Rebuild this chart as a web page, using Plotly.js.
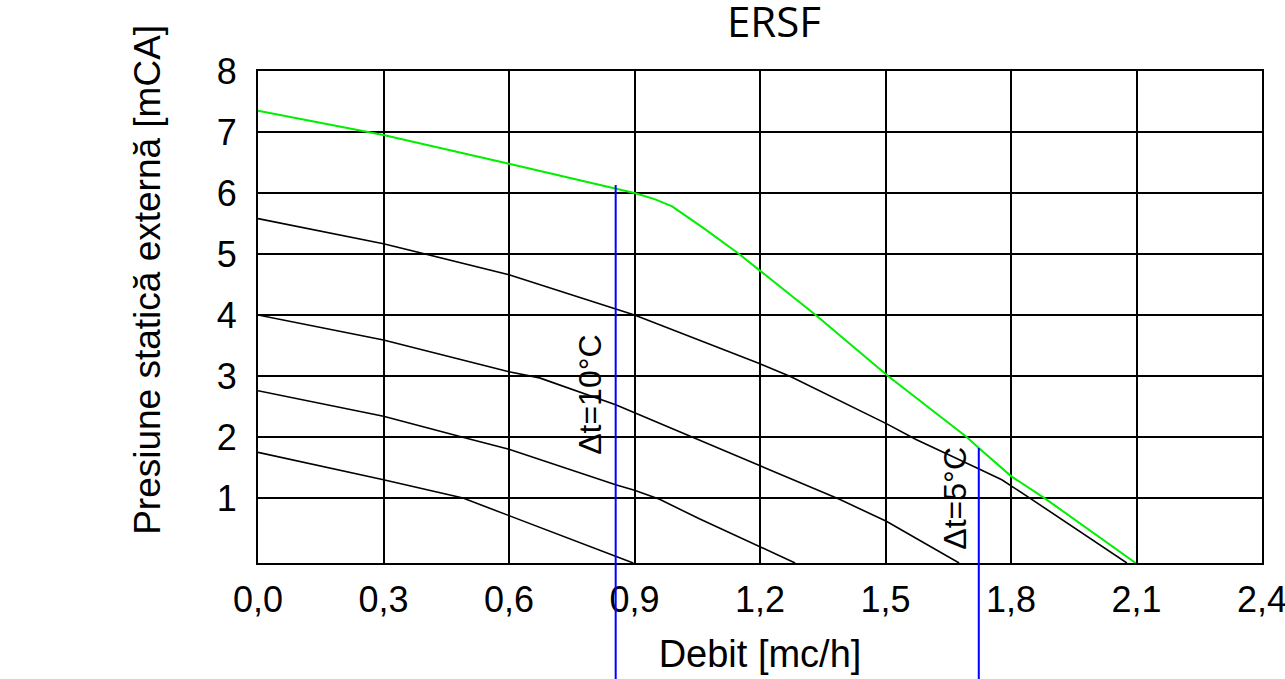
<!DOCTYPE html>
<html>
<head>
<meta charset="utf-8">
<script src="https://cdn.plot.ly/plotly-3.0.1.min.js"></script>
<style>html,body{margin:0;padding:0;background:#fff;}#chart{width:1285px;height:679px;}</style>
</head>
<body>
<div id="chart"></div>
<script>
// ---- data ----
const chartTitle = "ERSF";
const xTitle = "Debit [mc/h]";
const yTitle = "Presiune statică externă [mCA]";

const xTicks = [0, 0.3, 0.6, 0.9, 1.2, 1.5, 1.8, 2.1, 2.4];
const yTicks = [1, 2, 3, 4, 5, 6, 7, 8];
const xRange = [0, 2.4];
const yRange = [-0.064, 8];

// green (max) curve
const xGreen = [0, 0.3, 0.6, 0.855, 0.9, 0.948, 0.99, 1.066, 1.15, 1.333, 1.506, 1.694, 1.723, 1.8, 1.88, 2.098];
const yGreen = [7.35, 6.95, 6.48, 6.08, 6.0, 5.9, 5.78, 5.42, 5.0, 4.0, 3.0, 2.0, 1.82, 1.36, 1.0, -0.064];

// black speed curves
const xSpeed1 = [0, 0.3, 0.6, 0.855, 0.9, 1.2, 1.274, 1.502, 1.573, 1.72, 1.778, 1.845, 2.077];
const ySpeed1 = [5.58, 5.17, 4.66, 4.09, 4.0, 3.2, 2.99, 2.22, 1.96, 1.49, 1.30, 1.0, -0.064];

const xSpeed2 = [0, 0.3, 0.6, 0.673, 0.855, 0.9, 1.055, 1.2, 1.39, 1.502, 1.676];
const ySpeed2 = [4.0, 3.59, 3.07, 2.97, 2.53, 2.40, 1.94, 1.53, 0.98, 0.62, -0.064];

const xSpeed3 = [0, 0.3, 0.51, 0.6, 0.855, 0.9, 0.96, 1.055, 1.284];
const ySpeed3 = [2.76, 2.34, 1.96, 1.80, 1.22, 1.13, 0.98, 0.66, -0.064];

const xSpeed4 = [0, 0.3, 0.49, 0.6, 0.855, 0.897];
const ySpeed4 = [1.75, 1.30, 1.0, 0.71, 0.05, -0.064];

// Δt marker lines
const markerLabels = ["Δt=10°C", "Δt=5°C"];
const markerX = [0.855, 1.723];
const markerTop = [6.13, 1.82];
const labelX = [0.795, 1.666];
const labelY = [2.685, 1.006];

// ---- build ----
const blackLine = {color: "#000000", width: 1.6};
const traces = [
  {x: xSpeed1, y: ySpeed1, mode: "lines", line: blackLine, name: "1"},
  {x: xSpeed2, y: ySpeed2, mode: "lines", line: blackLine, name: "2"},
  {x: xSpeed3, y: ySpeed3, mode: "lines", line: blackLine, name: "3"},
  {x: xSpeed4, y: ySpeed4, mode: "lines", line: blackLine, name: "4"},
  {x: xGreen, y: yGreen, mode: "lines", line: {color: "#00ee00", width: 2}, name: "max"}
];

const toPaperY = v => (v - yRange[0]) / (yRange[1] - yRange[0]);

const shapes = markerX.map((mx, i) => ({
  type: "line", xref: "x", yref: "paper",
  x0: mx, x1: mx, y0: -0.4, y1: toPaperY(markerTop[i]),
  line: {color: "#0000ff", width: 2}, layer: "above"
}));

const annotations = markerLabels.map((t, i) => ({
  text: t, x: labelX[i], y: labelY[i], xref: "x", yref: "y",
  showarrow: false, textangle: -90, xanchor: "center", yanchor: "middle",
  font: {family: "Liberation Sans, Arial, sans-serif", size: 32, color: "#000"}
}));

annotations.push({
  text: yTitle, xref: "paper", yref: "paper",
  x: (148 - 258) / 1004, y: (563.3 - 280) / 492.3,
  xanchor: "center", yanchor: "middle", textangle: -90, showarrow: false,
  font: {family: "Liberation Sans, Arial, sans-serif", size: 37, color: "#000"}
});

const axisCommon = {
  showgrid: true, gridcolor: "#000000", gridwidth: 2,
  showline: true, linecolor: "#000000", linewidth: 2, mirror: true,
  zeroline: false, ticks: "", fixedrange: true,
  tickfont: {family: "Liberation Sans, Arial, sans-serif", size: 36, color: "#000"}
};

const layout = {
  width: 1285, height: 679,
  margin: {l: 258, r: 23, t: 71, b: 116, pad: 0},
  paper_bgcolor: "#ffffff", plot_bgcolor: "#ffffff",
  showlegend: false,
  separators: ",.",
  title: {
    text: chartTitle, xref: "paper", x: (774 - 258) / 1004, xanchor: "center",
    yref: "container", y: 1 - 22 / 679, yanchor: "middle",
    font: {family: "Open Sans, sans-serif", size: 42, color: "#000"}
  },
  xaxis: Object.assign({}, axisCommon, {
    range: xRange, tickvals: xTicks, tickformat: ".1f",
    ticklabelstandoff: 4, ticklabeloverflow: "allow",
    title: {text: xTitle, standoff: 21, font: {family: "Liberation Sans, Arial, sans-serif", size: 38, color: "#000"}}
  }),
  yaxis: Object.assign({}, axisCommon, {
    range: yRange, tickvals: yTicks, tickformat: "d",
    ticklabelstandoff: 12
  }),
  shapes: shapes,
  annotations: annotations
};

Plotly.newPlot("chart", traces, layout, {displayModeBar: false, staticPlot: true});
</script>
</body>
</html>
